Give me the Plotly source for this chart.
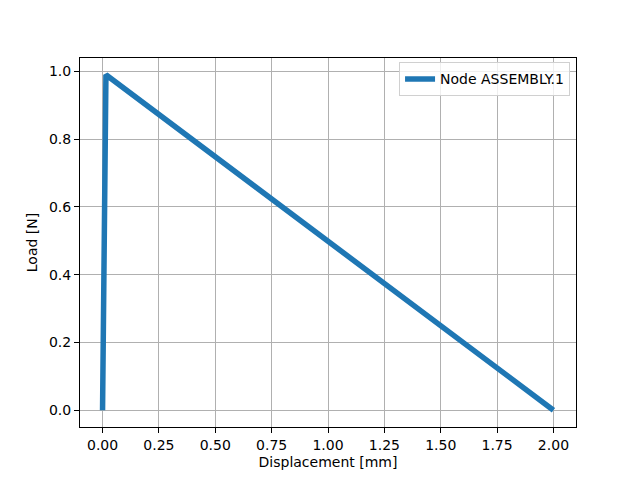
import plotly.graph_objects as go

# displacement / load curve
displacement = [0.0, 0.015, 2.0]
load = [0.0, 0.99, 0.0]

x_ticks = [0.0, 0.25, 0.5, 0.75, 1.0, 1.25, 1.5, 1.75, 2.0]
x_ticktext = ["0.00", "0.25", "0.50", "0.75", "1.00", "1.25", "1.50", "1.75", "2.00"]
y_ticks = [0.0, 0.2, 0.4, 0.6, 0.8, 1.0]
y_ticktext = ["0.0", "0.2", "0.4", "0.6", "0.8", "1.0"]

fig = go.Figure()
fig.add_trace(go.Scatter(x=displacement, y=load, mode="lines",
                         line=dict(color="#1f77b4", width=5.5),
                         name="Node ASSEMBLY.1"))

axis_style = dict(showline=True, linecolor="black", linewidth=1, mirror=True,
                  showgrid=True, gridcolor="#b0b0b0", gridwidth=1,
                  ticks="outside", ticklen=5, tickcolor="black", tickwidth=1,
                  zeroline=False, tickfont=dict(size=14, color="black"))

# page body has an 8px margin, so the figure is shrunk by that much
fig.update_layout(
    width=632, height=472,
    margin=dict(l=72, r=64, t=50, b=53),
    paper_bgcolor="white", plot_bgcolor="white",
    font=dict(family="DejaVu Sans", size=14, color="black"),
    showlegend=True,
    legend=dict(x=0.988, y=0.988, xanchor="right", yanchor="top",
                bordercolor="#d0d0d0", borderwidth=1, bgcolor="rgba(255,255,255,0.8)",
                font=dict(size=14)),
    xaxis=dict(axis_style, range=[-0.1, 2.1], tickvals=x_ticks, ticktext=x_ticktext,
               title=dict(text="Displacement [mm]", font=dict(size=14), standoff=5)),
    yaxis=dict(axis_style, range=[-0.0495, 1.0395], tickvals=y_ticks, ticktext=y_ticktext,
               title=dict(text="Load [N]", font=dict(size=14), standoff=8)),
)

fig.write_html("out.html")
